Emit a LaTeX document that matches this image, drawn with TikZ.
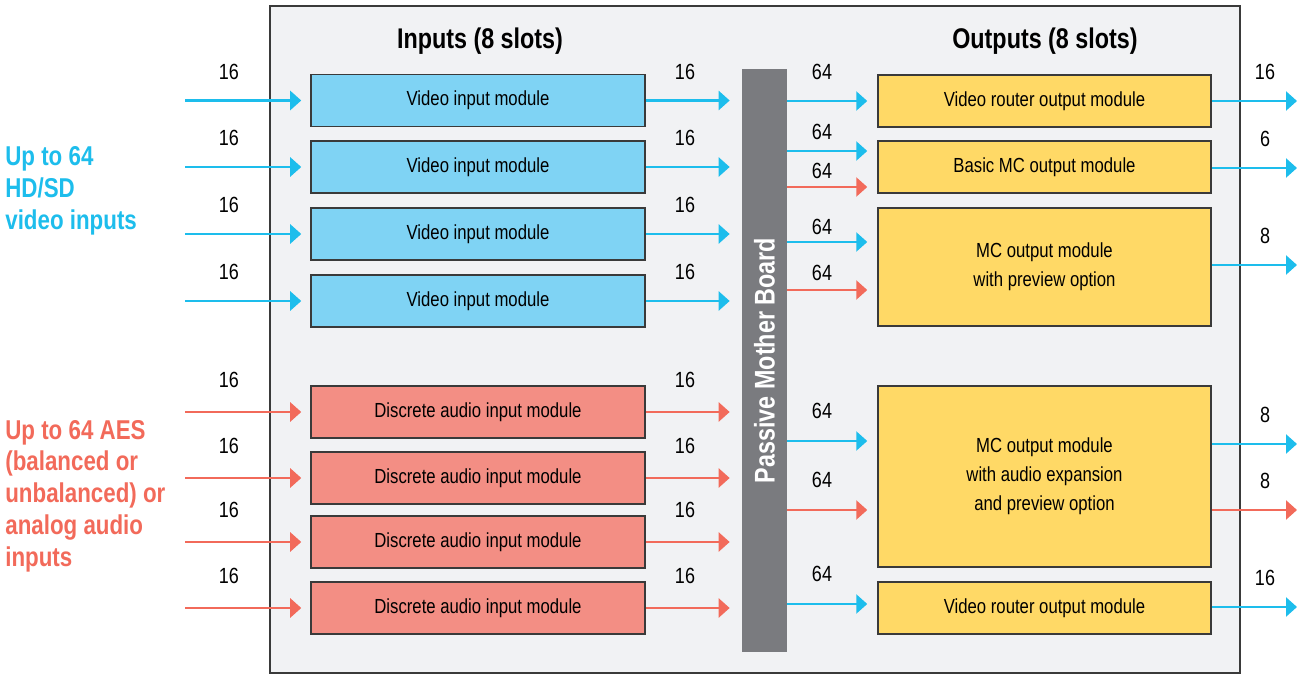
\documentclass[tikz,border=0pt]{standalone}
\usepackage{fontspec}
\setmainfont[FakeStretch=0.82]{Liberation Sans}
\usetikzlibrary{arrows.meta}
\definecolor{cyanline}{HTML}{1DBDEC}
\definecolor{redline}{HTML}{F26A5A}
\definecolor{vidfill}{HTML}{7FD3F4}
\definecolor{audfill}{HTML}{F38E84}
\definecolor{outfill}{HTML}{FFD966}
\definecolor{framefill}{HTML}{F1F2F4}
\definecolor{boardgray}{HTML}{7A7B7F}
\definecolor{edgegray}{HTML}{3A3A3A}

\begin{document}
\begin{tikzpicture}[x=0.02cm,y=-0.02cm,
    modbox/.style={draw=edgegray,line width=0.9pt,inner sep=0pt,align=center,
      font=\fontsize{11.6}{16.5}\selectfont},
    vidmod/.style={modbox,fill=vidfill,minimum width=6.68cm,minimum height=1.04cm},
    audmod/.style={modbox,fill=audfill,minimum width=6.68cm,minimum height=1.04cm},
    outmod/.style={modbox,fill=outfill,minimum width=6.66cm},
    bline/.style={draw=cyanline,line width=1.4pt,-{Triangle[length=0.22cm,width=0.38cm]}},
    rline/.style={bline,draw=redline},
    num/.style={font=\fontsize{12.5}{14}\selectfont},
    head/.style={font=\bfseries\fontsize{16.2}{18}\selectfont},
    side/.style={align=left,anchor=west,inner sep=0pt,font=\bfseries\fontsize{15.5}{18.1}\selectfont}]
    \useasboundingbox (0,0) rectangle (1299,675);

    % chassis
    \draw[edgegray,line width=1.5pt,fill=framefill] (270,6) rectangle (1240,673);
        \node[head] (inhead) at (480,41) {Inputs (8 slots)};
        \node[head] (outhead) at (1045,41) {Outputs (8 slots)};

    % mother board
    \node[fill=boardgray,inner sep=0pt,minimum width=0.9cm,minimum height=11.66cm] (mb) at (764.5,360.5) {};
    \node[rotate=90,text=white,head] (mbtext) at (mb.center) {Passive Mother Board};

    % input side
    \node[side,text=cyanline] (vidtext) at (5,191) {Up to 64\\HD/SD\\video inputs};
    \node[side,text=redline] (audtext) at (5,496) {Up to 64 AES\\(balanced or\\unbalanced) or\\analog audio\\inputs};

    \foreach \i/\y in {1/100.5,2/167,3/234,4/301}{
        \node[vidmod] (vi\i) at (478,\y) {Video input module};
        \coordinate (vsrc\i) at (185,\y);
        \draw[bline] (vsrc\i) -- ([xshift=-0.18cm]vi\i.west);
        \draw[bline] (vi\i.east) -- ([xshift=-0.24cm]vi\i.east -| mb.west);
        \node[num] (vl\i) at (229,\y-29) {16};
        \node[num] (vr\i) at (685,\y-29) {16};
    }
    \foreach \i/\y in {1/412,2/478,3/542,4/608}{
        \node[audmod] (ai\i) at (478,\y) {Discrete audio input module};
        \coordinate (asrc\i) at (185,\y);
        \draw[rline] (asrc\i) -- ([xshift=-0.18cm]ai\i.west);
        \draw[rline] (ai\i.east) -- ([xshift=-0.24cm]ai\i.east -| mb.west);
        \node[num] (al\i) at (229,\y-32) {16};
        \node[num] (ar\i) at (685,\y-32) {16};
    }

    % output side
    \node[outmod,minimum height=1.04cm] (o1) at (1044.5,101) {Video router output module};
    \node[outmod,minimum height=1.04cm] (o2) at (1044.5,167) {Basic MC output module};
    \node[outmod,minimum height=2.36cm] (o3) at (1044.5,267) {MC output module\\with preview option};
    \node[outmod,minimum height=3.62cm] (o4) at (1044.5,476.5) {MC output module\\with audio expansion\\and preview option};
    \node[outmod,minimum height=1.04cm] (o5) at (1044.5,608) {Video router output module};

    % board to outputs
    \foreach \n/\y/\ly/\st/\o in {1/101/72/bline/o1,2/151/132/bline/o2,3/187/171/rline/o2,
                                  4/242/227/bline/o3,5/290/273/rline/o3,6/441/411/bline/o4,
                                  7/510/480/rline/o4,8/604/574/bline/o5}{
        \coordinate (bo\n) at (787,\y);
        \draw[\st] (bo\n) -- ([xshift=-0.2cm]bo\n -| \o.west);
        \node[num] (bn\n) at (822,\ly) {64};
    }

    % outputs out
    \foreach \n/\y/\st/\o/\c in {1/101/bline/o1/16,2/168/bline/o2/6,3/265/bline/o3/8,
                                 4/444/bline/o4/8,5/510/rline/o4/8,6/607/bline/o5/16}{
        \coordinate (dst\n) at (1297,\y);
        \draw[\st] (dst\n -| \o.east) -- (dst\n);
        \node[num] (on\n) at (1265,\y-29) {\c};
    }

\end{tikzpicture}
\end{document}
